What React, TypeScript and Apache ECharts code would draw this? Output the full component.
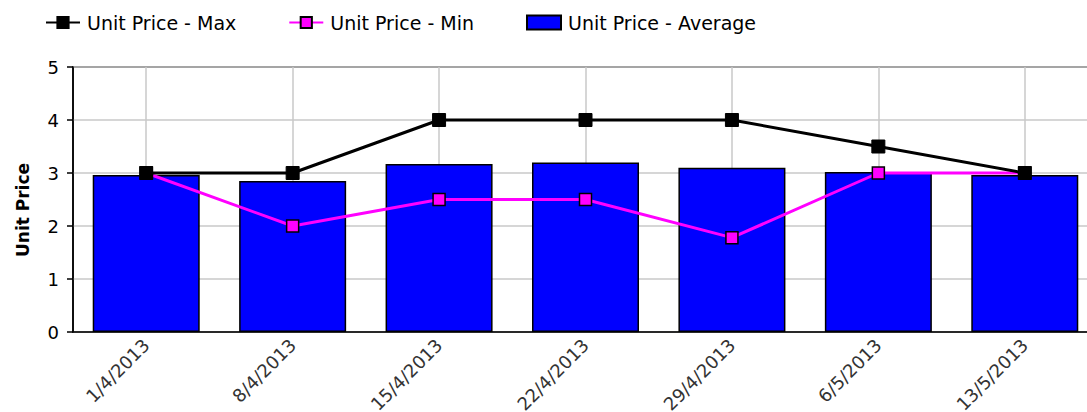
import React, { useEffect, useRef } from "react";
import * as echarts from "echarts";

const categories = ["1/4/2013", "8/4/2013", "15/4/2013", "22/4/2013", "29/4/2013", "6/5/2013", "13/5/2013"];
const maxValues = [3, 3, 4, 4, 4, 3.5, 3];
const minValues = [3, 2, 2.5, 2.5, 1.78, 3, 3];
const avgValues = [2.96, 2.85, 3.17, 3.2, 3.1, 3.02, 2.96];
const yTicks = [0, 1, 2, 3, 4, 5];

const FONT = "DejaVu Sans";

export default function App() {
  const ref = useRef<HTMLDivElement>(null);
  useEffect(() => {
    document.body.style.margin = "0";
    const chart = echarts.init(ref.current!, null, { renderer: "svg" });
    chart.setOption({
      animation: false,
      textStyle: { fontFamily: FONT },
      legend: {
        left: 40,
        top: 8,
        itemGap: 52,
        itemWidth: 34,
        itemHeight: 14,
        textStyle: { fontFamily: FONT, fontSize: 19, color: "#000", padding: [0, 0, 0, 2] },
        data: [
          { name: "Unit Price - Max" },
          { name: "Unit Price - Min" },
          { name: "Unit Price - Average", icon: "rect" },
        ],
      },
      graphic: [
        {
          type: "text",
          x: 23,
          y: 210,
          rotation: Math.PI / 2,
          style: {
            text: "Unit Price",
            fontFamily: FONT,
            fontSize: 17,
            fontWeight: "bold",
            fill: "#000",
            align: "center",
            verticalAlign: "middle",
          },
        },
      ],
      grid: {
        left: 73,
        top: 67,
        height: 265,
        width: 1025,
        show: true,
        borderColor: "#000",
        borderWidth: 1.5,
        containLabel: false,
        outerBoundsMode: "none",
      },
      xAxis: {
        type: "category",
        data: categories,
        axisLine: { lineStyle: { color: "#000", width: 1.5 } },
        axisTick: { alignWithLabel: true, length: 6, lineStyle: { color: "#000", width: 1.5 } },
        axisLabel: { rotate: 45, fontSize: 18, color: "#333", margin: 10, fontFamily: FONT },
        splitLine: { show: true, alignWithLabel: true, lineStyle: { color: "#c8c8c8", width: 1.5 } },
      },
      yAxis: {
        type: "value",
        min: yTicks[0],
        max: yTicks[yTicks.length - 1],
        interval: 1,
        axisLine: { show: true, lineStyle: { color: "#000", width: 1.5 } },
        axisTick: { show: true, length: 6, lineStyle: { color: "#000", width: 1.5 } },
        axisLabel: { fontSize: 18, color: "#000", margin: 14, fontFamily: FONT },
        splitLine: { show: true, lineStyle: { color: "#c8c8c8", width: 1.5 } },
      },
      series: [
        {
          name: "Unit Price - Average",
          type: "bar",
          data: avgValues,
          barWidth: 107,
          itemStyle: { color: "#0000ff", borderColor: "#000", borderWidth: 1.5 },
        },
        {
          name: "Unit Price - Min",
          type: "line",
          data: minValues,
          symbol: "rect",
          symbolSize: 12,
          lineStyle: { color: "#ff00ff", width: 3 },
          itemStyle: { color: "#ff00ff", borderColor: "#000", borderWidth: 1.5 },
        },
        {
          name: "Unit Price - Max",
          type: "line",
          data: maxValues,
          symbol: "rect",
          symbolSize: 13,
          lineStyle: { color: "#000", width: 3 },
          itemStyle: { color: "#000", borderColor: "#000", borderWidth: 1 },
        },
      ],
    });
    return () => chart.dispose();
  }, []);
  return <div ref={ref} style={{ width: 1087, height: 412 }} />;
}
